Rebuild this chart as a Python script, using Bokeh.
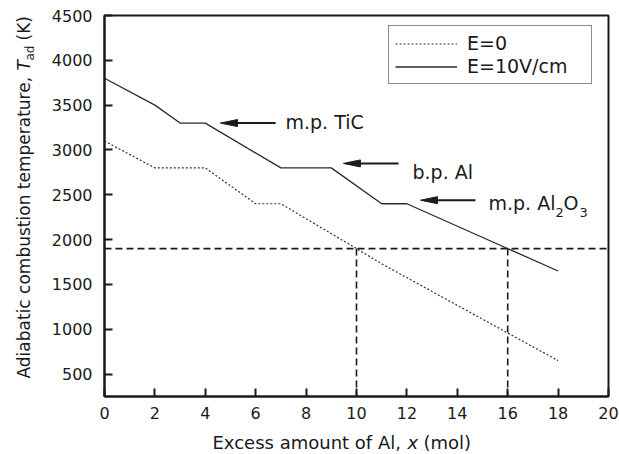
import math
from bokeh.plotting import figure
from bokeh.layouts import row, column
from bokeh.models import Label, Legend, LegendItem, FixedTicker, Range1d
from bokeh.embed import file_html
from bokeh.resources import INLINE

# ---------------- data ----------------
x_e0 = [0, 2, 4, 6, 7, 10, 11, 18]
t_e0 = [3100, 2800, 2800, 2400, 2400, 1900, 1730, 650]
x_e10 = [0, 2, 3, 4, 7, 9, 11, 12, 18]
t_e10 = [3800, 3500, 3300, 3300, 2800, 2800, 2400, 2400, 1650]
ref_T = 1900
ref_x = [10, 16]
x_ticks = list(range(0, 21, 2))
y_ticks = list(range(500, 4501, 500))
series_labels = ["E=0", "E=10V/cm"]

# annotation arrows (data units)
ann_text = ["m.p. TiC", "b.p. Al"]
arrow_head_x = [4.6, 9.48, 12.54]
arrow_tail_x = [6.79, 11.67, 14.72]
arrow_y = [3300, 2850, 2440]

# ---------------- layout (global page pixels) ----------------
W, H = 619, 454
GL, MR, MT = 104, 11, 15          # frame left / right margin / top
FW, FH = W - GL - MR, 381         # frame size
YW, XH = 40, 24                   # y-title strip width, x-title strip height
X0, X1, Y0, Y1 = 0, 20, 250, 4500
FONT = "DejaVu Sans"
INK = "#1a1a1a"


def dx(px):
    return px * (X1 - X0) / FW


def dy(px):
    return px * (Y1 - Y0) / FH


def sx2x(sx):
    return X0 + dx(sx - GL)


def sy2y(sy):
    return Y0 + dy(MT + FH - sy)


def shift(size_px):
    # observed offset between requested and drawn baseline
    return 0.31 * size_px


MH = H - XH
p = figure(width=W - YW, height=MH, x_range=Range1d(X0, X1), y_range=Range1d(Y0, Y1),
           output_backend="svg", toolbar_location=None,
           min_border_left=GL - YW, min_border_right=MR, min_border_top=MT,
           min_border_bottom=MH - MT - FH)
p.xgrid.visible = False
p.ygrid.visible = False
p.outline_line_color = INK
p.outline_line_width = 2
p.background_fill_color = "white"
p.border_fill_color = "white"

for ax, ticks, standoff in ((p.xaxis[0], x_ticks, 10), (p.yaxis[0], y_ticks, 12)):
    ax.ticker = FixedTicker(ticks=ticks)
    ax.major_tick_in = 8
    ax.major_tick_out = 0
    ax.minor_tick_in = 0
    ax.minor_tick_out = 0
    ax.axis_line_width = 2
    ax.axis_line_color = INK
    ax.major_tick_line_color = INK
    ax.major_tick_line_width = 2
    ax.major_label_text_font = FONT
    ax.major_label_text_font_size = "16px"
    ax.major_label_text_color = INK
    ax.major_label_standoff = standoff

# reference dashed lines
p.line([X0, X1], [ref_T, ref_T], line_color=INK, line_width=1.6, line_dash="7 4")
p.segment(x0=ref_x, y0=[ref_T] * len(ref_x), x1=ref_x, y1=[Y0] * len(ref_x),
          line_color=INK, line_width=1.6, line_dash="7 4")

# series
r0 = p.line(x_e0, t_e0, line_color="#333333", line_width=1.2, line_dash="2 2")
r1 = p.line(x_e10, t_e10, line_color="#2a2a2a", line_width=1.3)

legend = Legend(items=[LegendItem(label=series_labels[0], renderers=[r0]),
                       LegendItem(label=series_labels[1], renderers=[r1])],
                location=(388 - GL, MT + FH - 84), margin=0, padding=6,
                glyph_width=62, glyph_height=21, label_height=21, label_width=118,
                label_standoff=10, spacing=1,
                label_text_font=FONT, label_text_font_size="19px", label_text_color=INK,
                border_line_color=INK, border_line_width=1, background_fill_alpha=1)
p.add_layout(legend)

# arrows
head_len, head_half = 17, 3.5
p.segment(x0=arrow_tail_x, y0=arrow_y, x1=[h + dx(head_len - 2) for h in arrow_head_x], y1=arrow_y,
          line_color=INK, line_width=2)
p.patches(xs=[[h, h + dx(head_len), h + dx(head_len)] for h in arrow_head_x],
          ys=[[y, y + dy(head_half), y - dy(head_half)] for y in arrow_y],
          fill_color=INK, line_color=INK, line_width=1)


def lab(fig, x, y, text, size=19, style="normal", angle=0.0):
    fig.add_layout(Label(x=x, y=y, text=text, text_font=FONT, text_font_size=f"{size}px",
                         text_font_style=style, text_color=INK, text_align="left",
                         text_baseline="alphabetic", angle=angle))


# annotation texts (inside the frame): (page x, page baseline y, text, size)
for sx, sy, txt, size in ((285, 127, ann_text[0], 19), (412, 177, ann_text[1], 19),
                          (488, 208, "m.p. Al", 19), (555, 216, "2", 13),
                          (563, 208, "O", 19), (579, 216, "3", 13)):
    lab(p, sx2x(sx), sy2y(sy - shift(size)), txt, size=size)


def strip(w, h, xr, yr, **borders):
    f = figure(width=w, height=h, x_range=xr, y_range=yr, title=None,
               x_axis_type=None, y_axis_type=None, output_backend="svg",
               toolbar_location=None, **borders)
    f.outline_line_color = None
    f.background_fill_color = "white"
    f.border_fill_color = "white"
    return f


# x-title strip: same horizontal frame as the main plot, y in pixels from its bottom
xs = strip(W - YW, XH, Range1d(X0, X1), Range1d(0, XH),
           min_border_left=GL - YW, min_border_right=MR, min_border_top=0, min_border_bottom=0)
for sx, txt, st in ((212, "Excess amount of Al, ", "normal"), (407, "x", "italic"),
                    (423, "(mol)", "normal")):
    lab(xs, sx2x(sx), H - 448 + shift(18), txt, size=18, style=st)

# y-title strip: data units are page pixels
ys = strip(YW, H, Range1d(0, YW), Range1d(0, H), min_border=0)
ya = math.pi / 2
for sx, sy, txt, size, st in ((29, 378, "Adiabatic combustion temperature, ", 17, "normal"),
                              (29, 70, "T", 17, "italic"),
                              (33, 60, "ad", 12, "normal"),
                              (29, 40, "(K)", 17, "normal")):
    lab(ys, sx - shift(size), H - sy, txt, size=size, style=st, angle=ya)

layout = row(ys, column(p, xs))
open("out.html", "w").write(file_html(layout, INLINE))
